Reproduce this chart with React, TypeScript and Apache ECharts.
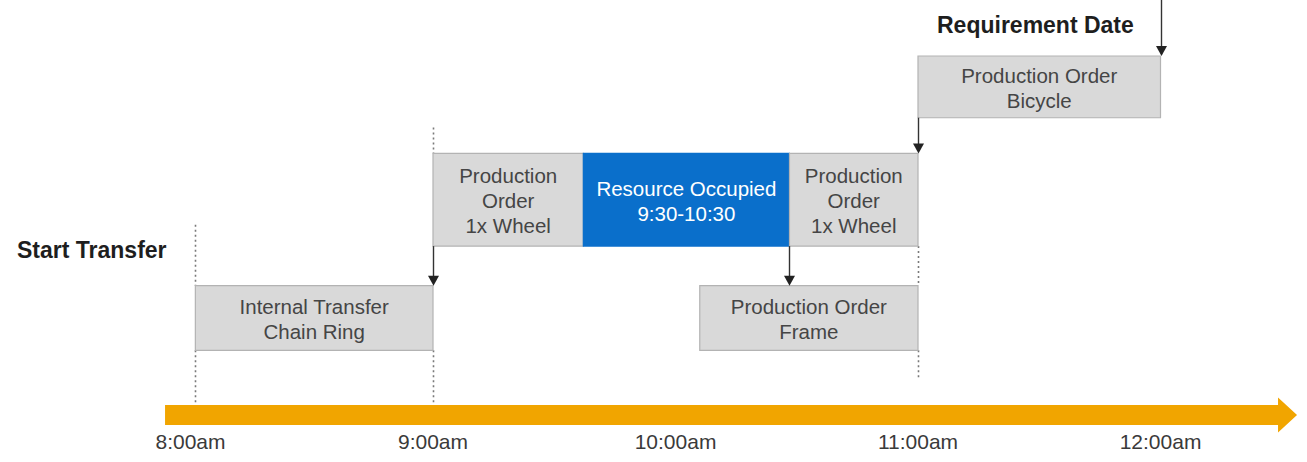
import React, { useEffect, useRef } from "react";
import * as echarts from "echarts";

// ---- data ----
const tickHours = [8, 9, 10, 11, 12];
const tickLabels = ["8:00am", "9:00am", "10:00am", "11:00am", "12:00am"];

const taskNames = [
  "Internal Transfer\nChain Ring",
  "Production\nOrder\n1x Wheel",
  "Resource Occupied\n9:30-10:30",
  "Production\nOrder\n1x Wheel",
  "Production Order\nFrame",
  "Production Order\nBicycle",
];
const taskStart = [8.02, 9.0, 9.62, 10.47, 10.1, 11.0];
const taskEnd = [9.0, 9.62, 10.47, 11.0, 11.0, 12.0];
const taskLane = [0, 1, 1, 1, 0, 2];
const taskKind = ["task", "task", "resource", "task", "task", "task"];

// dependency arrows: at time, from lane (-1 = chart top) down to lane
const linkAt = [9.0, 10.47, 11.0, 12.0];
const linkFromLane = [1, 1, 2, -1];
const linkToLane = [0, 0, 1, 2];

// dotted guide lines: time, y from, y to (axis units)
const guideAt = [8.02, 8.02, 9.0, 9.0, 11.0, 11.0];
const guideFrom = [1.97, 0.67, 2.98, 0.67, 1.75, 0.67];
const guideTo = [1.34, 0.12, 2.71, 0.12, 1.34, 0.38];

const timelineStart = 7.895;
const timelineEnd = 12.563;

const annotations = ["Requirement Date", "Start Transfer"];

// ---- layout / style ----
const laneBands = [
  [0.67, 1.34],
  [1.75, 2.71],
  [3.08, 3.72],
];
const Y_MAX = 4.3;
const FONT = "'Liberation Sans', Arial, sans-serif";

export default function App() {
  const ref = useRef<HTMLDivElement>(null);

  useEffect(() => {
    if (!ref.current) return;
    const chart = echarts.init(ref.current, null, { renderer: "svg" });

    const taskData = taskNames.map((n, i) => ({
      name: n,
      value: [taskStart[i], taskEnd[i], taskLane[i]],
    }));

    const option: any = {
      animation: false,
      backgroundColor: "#ffffff",
      grid: { left: 0, right: 0, top: 0, bottom: 47 },
      xAxis: {
        type: "value",
        min: 7.2144,
        max: 12.6041,
        axisLine: { show: false },
        axisTick: { show: false },
        splitLine: { show: false },
        axisLabel: {
          customValues: tickHours,
          formatter: (v: number) => tickLabels[tickHours.indexOf(Math.round(v))] ?? "",
          fontFamily: FONT,
          fontSize: 21,
          color: "#3a3a3a",
          margin: 16,
        },
      },
      yAxis: {
        type: "value",
        min: 0,
        max: Y_MAX,
        show: false,
        splitLine: { show: false },
      },
      graphic: [
        {
          type: "text",
          left: 937,
          top: 13,
          style: {
            text: annotations[0],
            font: `bold 23px ${FONT}`,
            fill: "#1e1e1e",
          },
        },
        {
          type: "text",
          left: 17,
          top: 238,
          style: {
            text: annotations[1],
            font: `bold 23px ${FONT}`,
            fill: "#1e1e1e",
          },
        },
      ],
      series: [
        // timeline arrow
        {
          type: "custom",
          z: 1,
          data: [[timelineStart, timelineEnd]],
          renderItem: (params: any, api: any) => {
            const a = api.coord([api.value(0), 0]);
            const b = api.coord([api.value(1), 0]);
            const head = 19;
            const band = 10;
            const hh = 17.5;
            return {
              type: "polygon",
              shape: {
                points: [
                  [a[0], a[1] - band],
                  [b[0] - head, a[1] - band],
                  [b[0] - head, a[1] - hh],
                  [b[0], a[1]],
                  [b[0] - head, a[1] + hh],
                  [b[0] - head, a[1] + band],
                  [a[0], a[1] + band],
                ],
              },
              style: { fill: "#f1a500" },
            };
          },
        },
        // dotted guides
        {
          type: "custom",
          z: 2,
          data: guideAt.map((t, i) => [t, guideFrom[i], guideTo[i]]),
          renderItem: (params: any, api: any) => {
            const p1 = api.coord([api.value(0), api.value(1)]);
            const p2 = api.coord([api.value(0), api.value(2)]);
            const x = Math.round(p1[0]) + 0.5;
            return {
              type: "line",
              shape: { x1: x, y1: p1[1], x2: x, y2: p2[1] },
              style: { stroke: "#7a7a7a", lineWidth: 1.6, lineDash: [2, 3] },
            };
          },
        },
        // task boxes
        {
          type: "custom",
          z: 3,
          data: taskData,
          renderItem: (params: any, api: any) => {
            const i = params.dataIndex;
            const band = laneBands[api.value(2)];
            const p1 = api.coord([api.value(0), band[1]]);
            const p2 = api.coord([api.value(1), band[0]]);
            const isRes = taskKind[i] === "resource";
            const x = p1[0];
            const y = p1[1];
            const w = p2[0] - p1[0];
            const h = p2[1] - p1[1];
            return {
              type: "group",
              children: [
                {
                  type: "rect",
                  shape: { x, y, width: w, height: h },
                  style: {
                    fill: isRes ? "#0a6fcb" : "#d9d9d9",
                    stroke: isRes ? "#0a6fcb" : "#b3b3b3",
                    lineWidth: 1.2,
                  },
                },
                {
                  type: "text",
                  style: {
                    text: taskNames[i],
                    x: x + w / 2,
                    y: y + h / 2 + 1,
                    align: "center",
                    verticalAlign: "middle",
                    fontSize: 20.5,
                    fontFamily: FONT,
                    lineHeight: 25,
                    fill: isRes ? "#ffffff" : "#454545",
                  },
                },
              ],
            };
          },
        },
        // dependency arrows
        {
          type: "custom",
          z: 4,
          data: linkAt.map((t, i) => [t, linkFromLane[i], linkToLane[i]]),
          renderItem: (params: any, api: any) => {
            const t = api.value(0);
            const from = api.value(1);
            const to = api.value(2);
            const yFrom = from < 0 ? Y_MAX : laneBands[from][0];
            const yTo = laneBands[to][1];
            const p1 = api.coord([t, yFrom]);
            const p2 = api.coord([t, yTo]);
            const x = Math.round(p1[0]) + 0.5;
            const ah = 10;
            const aw = 5.5;
            return {
              type: "group",
              children: [
                {
                  type: "line",
                  shape: { x1: x, y1: p1[1], x2: x, y2: p2[1] - ah + 1 },
                  style: { stroke: "#333", lineWidth: 1.4 },
                },
                {
                  type: "polygon",
                  shape: {
                    points: [
                      [x - aw, p2[1] - ah],
                      [x + aw, p2[1] - ah],
                      [x, p2[1]],
                    ],
                  },
                  style: { fill: "#222" },
                },
              ],
            };
          },
        },
      ],
    };

    chart.setOption(option);
    return () => chart.dispose();
  }, []);

  return (
    <div
      ref={ref}
      style={{ position: "fixed", left: 0, top: 0, width: 1307, height: 462, background: "#fff" }}
    />
  );
}
